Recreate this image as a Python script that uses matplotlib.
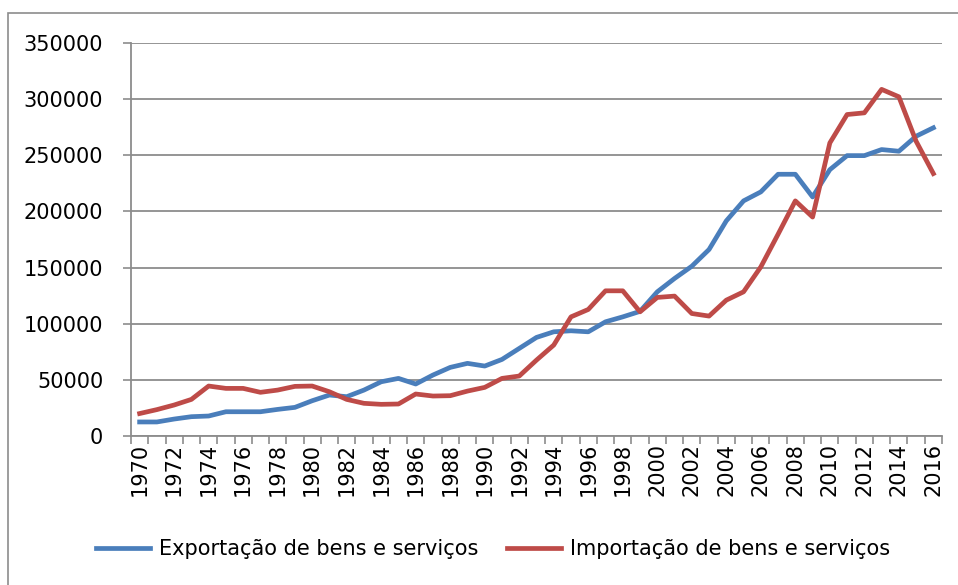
import matplotlib.pyplot as plt
from matplotlib.patches import Rectangle

years = list(range(1970, 2017))

exportacao = [12500, 12500, 15100, 17200, 17800, 21600, 21600, 21600, 23700, 25500,
              31400, 36500, 35000, 40900, 48300, 51300, 46300, 54300, 61100, 64700,
              62300, 68200, 78000, 87800, 92800, 93700, 92800, 101700, 106100, 111000,
              128400, 140300, 151200, 166100, 191600, 209400, 217400, 233100, 233100, 212900,
              237200, 249700, 249700, 255100, 253600, 267000, 274500]

importacao = [20000, 23500, 27600, 32600, 44500, 42400, 42400, 38900, 40900, 44200,
              44500, 39400, 32600, 29100, 28200, 28500, 37400, 35600, 35900, 40000,
              43300, 51300, 53400, 67600, 81000, 106100, 112700, 129300, 129300, 110600,
              123400, 124600, 109100, 106800, 121000, 128400, 150600, 179700, 209400, 195000,
              261000, 286300, 287800, 308700, 302100, 262500, 233700]

label_exp = 'Exportação de bens e serviços'
label_imp = 'Importação de bens e serviços'

fig = plt.figure(figsize=(9.58, 5.85), dpi=100)
ax = fig.add_axes([131 / 958, 1 - 436 / 585, 811 / 958, 393 / 585])

# moldura da area do grafico
fig.patches.append(Rectangle((8 / 958, -0.05), 1.0, 1 - 13 / 585 + 0.05,
                             transform=fig.transFigure, fill=False,
                             edgecolor='#8c8c8c', linewidth=1.2))

x = list(range(len(years)))
ax.plot(x, exportacao, color='#4a7ebb', linewidth=3.4, label=label_exp,
        solid_joinstyle='round')
ax.plot(x, importacao, color='#be4b48', linewidth=3.4, label=label_imp,
        solid_joinstyle='round')

ax.set_xlim(-0.5, len(years) - 0.5)
ax.set_ylim(0, 350000)
ax.set_yticks(range(0, 350001, 50000))
ax.grid(axis='y', color='#8c8c8c', linewidth=1.3)
ax.set_axisbelow(True)

gray = '#8c8c8c'
for s in ['top', 'right']:
    ax.spines[s].set_visible(False)
ax.spines['left'].set_color(gray)
ax.spines['bottom'].set_color(gray)
ax.spines['left'].set_linewidth(1.3)
ax.spines['bottom'].set_linewidth(1.3)

ax.set_xticks(x[::2])
ax.set_xticklabels([str(y) for y in years[::2]], rotation=90)
ax.set_xticks([i - 0.5 for i in range(len(years) + 1)], minor=True)
ax.tick_params(axis='x', which='major', length=0, pad=5, labelsize=15)
ax.tick_params(axis='x', which='minor', length=6, color=gray, width=1.2)
ax.tick_params(axis='y', length=6, color=gray, width=1.2, pad=14, labelsize=15)

fig.legend(loc='center', bbox_to_anchor=(493 / 958, 1 - 549 / 585), ncol=2,
           frameon=False, fontsize=15, handlelength=2.6, columnspacing=1.4,
           handletextpad=0.4)

fig.savefig('out.png', dpi=100)
